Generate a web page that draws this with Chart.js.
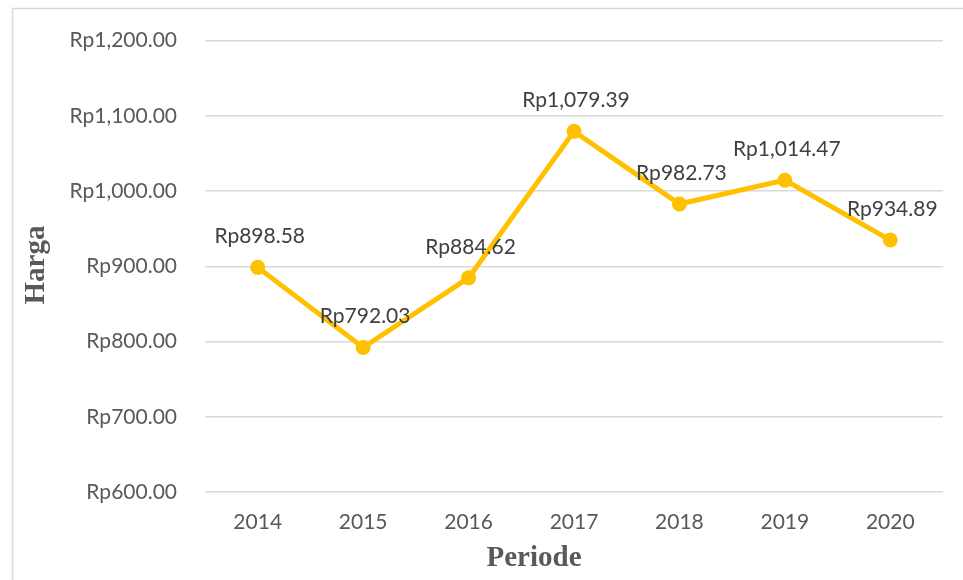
<!DOCTYPE html>
<html>
<head>
<meta charset="utf-8">
<script src="https://cdn.jsdelivr.net/npm/chart.js@4/dist/chart.umd.min.js"></script>
<style>
    html, body { margin: 0; padding: 0; background: #fff; }
    canvas { display: block; }
</style>
</head>
<body>
<canvas id="harga" width="963" height="580"></canvas>
<script>
// data
const periods = ['2014', '2015', '2016', '2017', '2018', '2019', '2020'];
const prices = [898.58, 792.03, 884.62, 1079.39, 982.73, 1014.47, 934.89];
const yTicks = {min: 600, max: 1200, step: 100};

const rupiah = v => 'Rp' + v.toLocaleString('en-US', {minimumFractionDigits: 2, maximumFractionDigits: 2});

const textFont = 'Lato, "Open Sans", sans-serif';
const titleFont = '"Liberation Serif", "Times New Roman", serif';

// frame, axis titles and value labels (Excel style)
const extras = {
    id: 'extras',
    beforeDraw(chart) {
        const ctx = chart.ctx;
        ctx.save();
        ctx.strokeStyle = '#d9d9d9';
        ctx.lineWidth = 1.5;
        ctx.strokeRect(12.5, 8.5, 1200, 1200);
        ctx.restore();
    },
    afterDatasetsDraw(chart) {
        const ctx = chart.ctx;
        const meta = chart.getDatasetMeta(0);
        ctx.save();
        ctx.font = '21px ' + textFont;
        ctx.fillStyle = '#404040';
        ctx.textAlign = 'center';
        ctx.textBaseline = 'middle';
        meta.data.forEach((pt, i) => {
            ctx.fillText(rupiah(prices[i]), pt.x + 2, pt.y - 31);
        });

        ctx.font = 'bold 29px ' + titleFont;
        ctx.fillStyle = '#595959';
        ctx.fillText('Periode', 534, 559);
        ctx.translate(37, 265);
        ctx.rotate(-Math.PI / 2);
        ctx.fillText('Harga', 0, 0);
        ctx.restore();
    }
};

new Chart(document.getElementById('harga'), {
    type: 'line',
    data: {
        labels: periods,
        datasets: [{
            label: 'Harga',
            data: prices,
            borderColor: '#FFC000',
            backgroundColor: '#FFC000',
            borderWidth: 5,
            pointRadius: 7.5,
            pointHoverRadius: 7.5,
            pointBorderWidth: 0,
            tension: 0
        }]
    },
    options: {
        responsive: false,
        animation: false,
        layout: {
            padding: {left: 12, right: 20, top: 38, bottom: 0}
        },
        plugins: {
            legend: {display: false},
            tooltip: {enabled: false}
        },
        scales: {
            x: {
                offset: true,
                grid: {display: false, drawTicks: false},
                border: {display: false},
                ticks: {
                    color: '#595959',
                    font: {family: textFont, size: 21},
                    padding: 18
                },
                afterFit(scale) { scale.height = 88; }
            },
            y: {
                min: yTicks.min,
                max: yTicks.max,
                grid: {color: '#d9d9d9', lineWidth: 1.5, drawTicks: false},
                border: {display: false},
                ticks: {
                    stepSize: yTicks.step,
                    color: '#595959',
                    font: {family: textFont, size: 21},
                    padding: 28,
                    callback: v => rupiah(v)
                },
                afterFit(scale) { scale.width = 193; }
            }
        }
    },
    plugins: [extras]
});
</script>
</body>
</html>
